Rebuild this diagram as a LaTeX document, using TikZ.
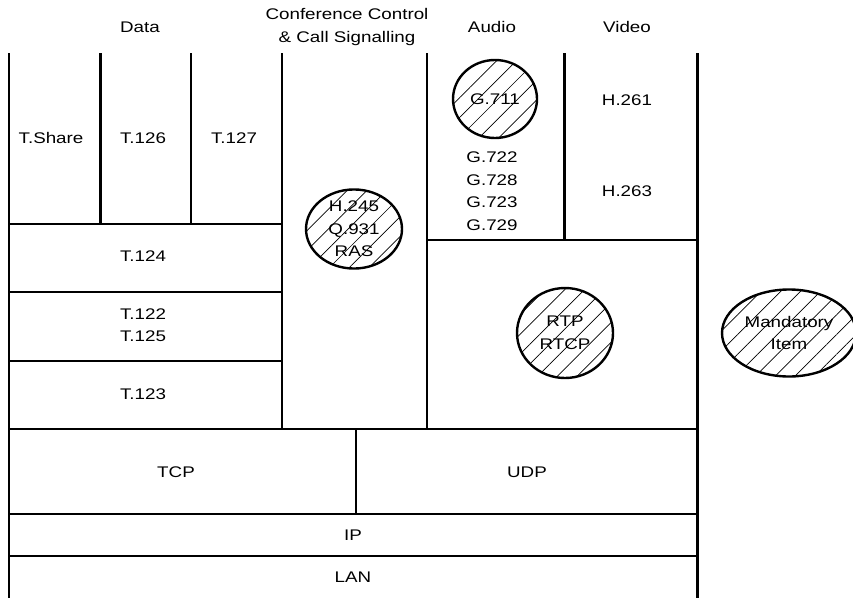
\documentclass[tikz,border=0pt]{standalone}
\usepackage{fontspec}
\usepackage{graphicx}
\setmainfont{Liberation Sans}
\usetikzlibrary{shapes.geometric,patterns.meta}
\newcommand{\hs}[1]{\scalebox{1.22}[1]{#1}}
\begin{document}
\begin{tikzpicture}[x=1pt,y=-1pt,
  lbl/.style={font=\fontsize{15.4}{22.5}\selectfont, inner sep=0pt, align=center},
  wall/.style={line width=2.1pt},
  thickwall/.style={line width=3pt},
  mand/.style={ellipse, draw, line width=2.4pt, inner sep=0pt, align=center,
    font=\fontsize{15.4}{22.5}\selectfont,
    pattern={Lines[angle=45,distance=14pt,line width=0.7pt]}}]
\useasboundingbox (0,0) rectangle (853,597);
% grid
\draw[wall] (9,53) -- (9,600);
\draw[thickwall] (697,53) -- (697,600);
\draw[thickwall] (100,53) -- (100,224);
\draw[wall] (191,53) -- (191,224);
\draw[wall] (282,53) -- (282,429);
\draw[wall] (427,53) -- (427,429);
\draw[thickwall] (564,53) -- (564,240);
\draw[wall] (9,224) -- (282,224);
\draw[wall] (9,292) -- (282,292);
\draw[wall] (9,361) -- (282,361);
\draw[wall] (427,240) -- (697,240);
\draw[wall] (9,429) -- (697,429);
\draw[wall] (356,429) -- (356,514);
\draw[wall] (9,514) -- (697,514);
\draw[wall] (9,556) -- (697,556);
% headers
\node[lbl] (hdata) at (140,27) {\hs{Data}};
\node[lbl] (hconf) at (347,27) {\hs{Conference Control}\\\hs{\& Call Signalling}};
\node[lbl] (haudio) at (492,27) {\hs{Audio}};
\node[lbl] (hvideo) at (627,27) {\hs{Video}};
% cells
\node[lbl] (tshare) at (51,138) {\hs{T.Share}};
\node[lbl] (t126) at (143,138) {\hs{T.126}};
\node[lbl] (t127) at (234,138) {\hs{T.127}};
\node[lbl] (t124) at (143,256) {\hs{T.124}};
\node[lbl] (t122) at (143,325) {\hs{T.122}\\\hs{T.125}};
\node[lbl] (t123) at (143,394) {\hs{T.123}};
\node[lbl] (gs) at (492,191) {\hs{G.722}\\\hs{G.728}\\\hs{G.723}\\\hs{G.729}};
\node[lbl] (h261) at (627,100) {\hs{H.261}};
\node[lbl] (h263) at (627,191) {\hs{H.263}};
\node[lbl] (tcp) at (176,472) {\hs{TCP}};
\node[lbl] (udp) at (527,472) {\hs{UDP}};
\node[lbl] (ip) at (353,535) {\hs{IP}};
\node[lbl] (lan) at (353,577) {\hs{LAN}};
% mandatory items
\node[mand, minimum width=84pt, minimum height=78pt] (g711) at (495,99) {\hs{G.711}};
\node[mand, minimum width=96pt, minimum height=78pt] (h245) at (354,229) {\hs{H.245}\\\hs{Q.931}\\\hs{RAS}};
\node[mand, minimum width=96pt, minimum height=90pt] (rtp) at (565,333) {\hs{RTP}\\\hs{RTCP}};
\node[mand, minimum width=134pt, minimum height=87pt] (legend) at (789,333) {\hs{Mandatory}\\\hs{Item}};
\end{tikzpicture}
\end{document}
